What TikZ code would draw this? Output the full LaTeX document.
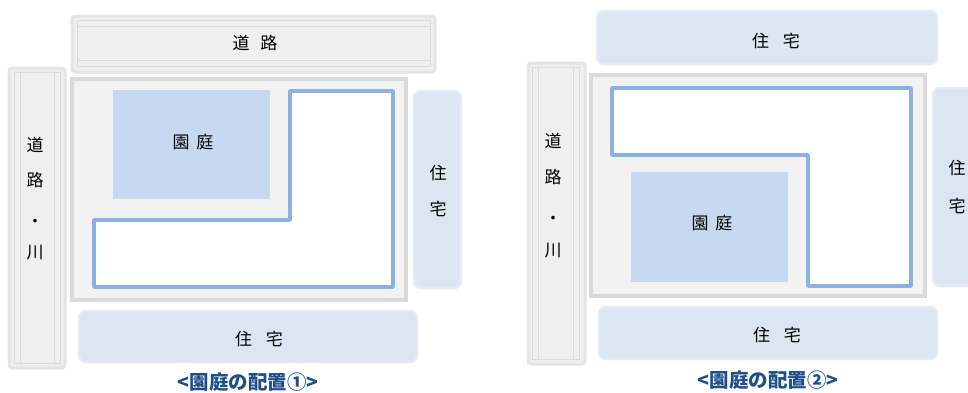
\documentclass[tikz,border=0pt]{standalone}
\usepackage{fontspec}
\newfontfamily\cjk{Noto Sans CJK JP}
\definecolor{roadfill}{HTML}{EFEFEF}
\definecolor{roadedge}{HTML}{E4E4E4}
\definecolor{roadline}{HTML}{DADADA}
\definecolor{sitefill}{HTML}{F2F2F2}
\definecolor{siteedge}{HTML}{DADADA}
\definecolor{gardenfill}{HTML}{C6D9F0}
\definecolor{housefill}{HTML}{DCE6F2}
\definecolor{houseedge}{HTML}{E4EBF5}
\definecolor{bldgedge}{HTML}{8AB1E2}
\definecolor{captioncol}{HTML}{1F4E8C}
\tikzset{
  box/.style={anchor=north west, inner sep=0pt, outer sep=0pt},
  roadbox/.style={box, fill=roadfill, draw=roadedge, line width=3pt, rounded corners=3pt},
  roadlane/.style={draw=roadline, line width=0.8pt},
  sitebox/.style={box, fill=sitefill, draw=siteedge, line width=3.5pt},
  gardenbox/.style={box, fill=gardenfill},
  housebox/.style={box, fill=housefill, draw=houseedge, line width=2.5pt, rounded corners=7pt},
  bldg/.style={fill=white, draw=bldgedge, line width=3.5pt, line join=round},
  lbl/.style={font=\cjk\fontsize{17}{17}\selectfont, inner sep=0pt, text=black},
  captiontext/.style={font=\cjk\bfseries\fontsize{19.5}{19.5}\selectfont, inner sep=0pt, text=captioncol},
}
\begin{document}
\begin{tikzpicture}[x=1pt,y=-1pt]
\useasboundingbox (0,0) rectangle (968,392);
\fill[white] (0,0) rectangle (968,392);

% ===== Layout 1 =====
\node[roadbox, minimum width=363pt, minimum height=56pt] (r1top) at (72,16) {};
\draw[roadlane] (77,20) rectangle (430,66);
\draw[roadlane] (77,26) -- (430,26) (77,60) -- (430,60);
\node[lbl] (r1topt) at (255,43) {道\hspace{0.62em}路};

\node[roadbox, minimum width=56pt, minimum height=300pt] (r1left) at (9,68) {};
\draw[roadlane] (14,72) rectangle (60,363);
\draw[roadlane] (20,72) -- (20,363) (54,72) -- (54,363);
\node[lbl] (r1l1) at (35,145) {道};
\node[lbl] (r1l2) at (35,180) {路};
\node[lbl] (r1l3) at (35,223) {・};
\node[lbl] (r1l4) at (35,253) {川};

\node[sitebox, minimum width=334pt, minimum height=221pt] (s1) at (72,79) {};
\node[gardenbox, minimum width=157pt, minimum height=109pt] (g1) at (113,90) {};
\node[lbl] (g1t) at (193,142) {園\hspace{0.4em}庭};
\coordinate (b1a) at (290,91);
\coordinate (b1b) at (393,91);
\coordinate (b1c) at (393,287);
\coordinate (b1d) at (94,287);
\coordinate (b1e) at (94,220);
\coordinate (b1f) at (290,220);
\draw[bldg] (b1a) -- (b1b) -- (b1c) -- (b1d) -- (b1e) -- (b1f) -- cycle;

\node[housebox, minimum width=47pt, minimum height=197pt] (h1r) at (414,91) {};
\node[lbl] (h1r1) at (438,173) {住};
\node[lbl] (h1r2) at (438,209) {宅};
\node[housebox, minimum width=338pt, minimum height=51pt] (h1b) at (79,311) {};
\node[lbl] (h1bt) at (259,339) {住\hspace{0.8em}宅};

\node[captiontext] (c1) at (248,382) {<園庭の配置①>};

% ===== Layout 2 =====
\node[housebox, minimum width=340pt, minimum height=53pt] (h2t) at (597,11) {};
\node[lbl] (h2tt) at (776,41) {住\hspace{0.8em}宅};

\node[roadbox, minimum width=57pt, minimum height=301pt] (r2left) at (528,63) {};
\draw[roadlane] (532,67) rectangle (579,359);
\draw[roadlane] (538,67) -- (538,359) (573,67) -- (573,359);
\node[lbl] (r2l1) at (553,141) {道};
\node[lbl] (r2l2) at (553,177) {路};
\node[lbl] (r2l3) at (553,220) {・};
\node[lbl] (r2l4) at (553,251) {川};

\node[sitebox, minimum width=334pt, minimum height=221pt] (s2) at (591,75) {};
\coordinate (b2a) at (612,88);
\coordinate (b2b) at (911,88);
\coordinate (b2c) at (911,286);
\coordinate (b2d) at (808,286);
\coordinate (b2e) at (808,155);
\coordinate (b2f) at (612,155);
\draw[bldg] (b2a) -- (b2b) -- (b2c) -- (b2d) -- (b2e) -- (b2f) -- cycle;
\node[gardenbox, minimum width=157pt, minimum height=110pt] (g2) at (631,172) {};
\node[lbl] (g2t) at (712,223) {園\hspace{0.4em}庭};

\node[housebox, minimum width=47pt, minimum height=198pt] (h2r) at (933,88) {};
\node[lbl] (h2r1) at (957,168) {住};
\node[lbl] (h2r2) at (957,206) {宅};
\node[housebox, minimum width=338pt, minimum height=52pt] (h2b) at (599,307) {};
\node[lbl] (h2bt) at (777,335) {住\hspace{0.8em}宅};

\node[captiontext] (c2) at (768,380) {<園庭の配置②>};
\end{tikzpicture}
\end{document}
